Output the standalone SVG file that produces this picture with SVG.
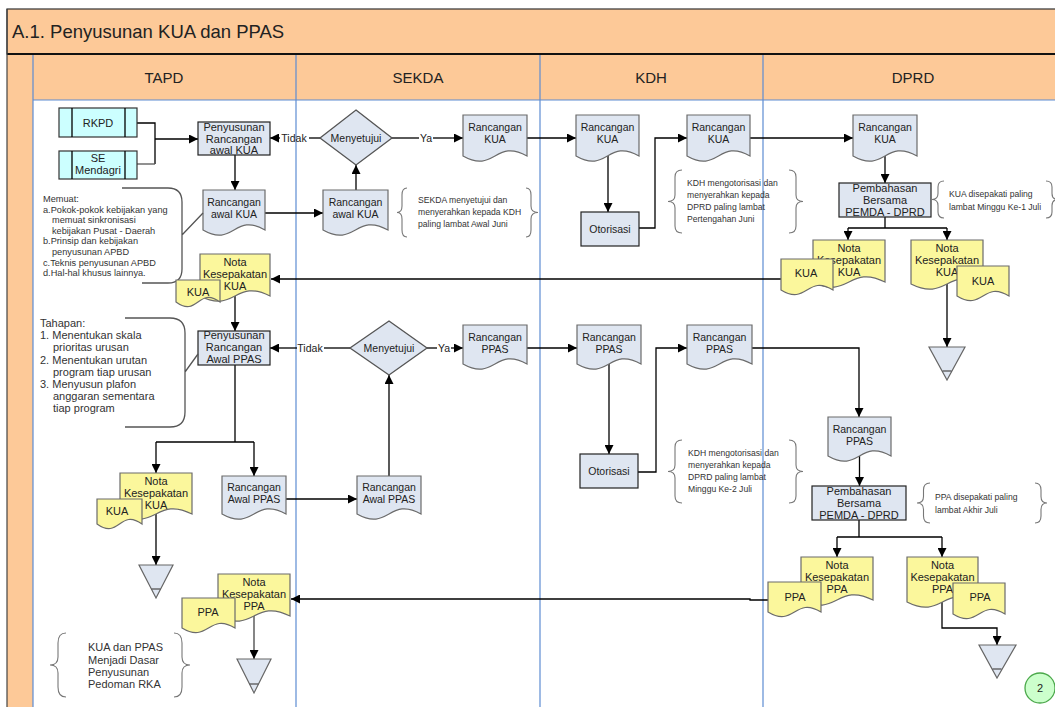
<svg xmlns="http://www.w3.org/2000/svg" width="1055" height="707" viewBox="0 0 1055 707">
  <defs>
    <marker id="arrow" viewBox="0 0 10 10" refX="10" refY="5" markerWidth="9" markerHeight="9" markerUnits="userSpaceOnUse" orient="auto">
      <path d="M0,0 L10,5 L0,10 Z" fill="#000"/>
    </marker>
    <style>
      text { font-family: "Liberation Sans", Arial, sans-serif; fill: #222; }
      .title { font-size: 18.5px; }
      .lane { font-size: 15px; text-anchor: middle; }
      .t { font-size: 11px; text-anchor: middle; }
      .td { font-size: 10.5px; text-anchor: middle; }
      .note { font-size: 8.6px; fill: #333; }
      .memo { font-size: 9.2px; fill: #333; }
      .step { font-size: 11px; fill: #333; }
      .box { fill: #dfe6f1; stroke: #222; stroke-width: 1.2; }
      .doc { fill: #dfe6f1; stroke: #6b6b6b; stroke-width: 1.2; }
      .ydoc { fill: #fbf79c; stroke: #6b6b6b; stroke-width: 1.2; }
      .pre { fill: #ccffff; stroke: #333; stroke-width: 1.2; }
      .dia { fill: #dfe6f1; stroke: #555; stroke-width: 1.3; }
      .tri { fill: #dfe6f1; stroke: #666; stroke-width: 1.2; }
      .brace { fill: none; stroke: #777; stroke-width: 1.1; }
      .ln { fill: none; stroke: #000; stroke-width: 1.3; }
      .lng { fill: none; stroke: #555; stroke-width: 1.3; }
      .arr { fill: none; stroke: #000; stroke-width: 1.3; marker-end: url(#arrow); }
      .arrg { fill: none; stroke: #444; stroke-width: 1.3; marker-end: url(#arrow); }
      .sep { stroke: #5d8cd2; stroke-width: 1.2; }
      .hdr { fill: #fdc998; }
    </style>
  </defs>

  <rect width="1055" height="707" fill="#fff"/>

  <!-- swimlane frame -->
  <g id="frame">
    <rect class="hdr" x="7" y="9" width="1060" height="45" stroke="#333" stroke-width="1.2"/>
    <rect class="hdr" x="7" y="54" width="26" height="660"/>
    <rect class="hdr" x="33" y="55" width="1030" height="45"/>
    <line x1="7" y1="54" x2="1055" y2="54" stroke="#111" stroke-width="2"/>
    <line x1="7" y1="9" x2="7" y2="707" stroke="#444" stroke-width="1.2"/>
    <line class="sep" x1="33" y1="100" x2="1055" y2="100"/>
    <line class="sep" x1="33" y1="55" x2="33" y2="707"/>
    <line class="sep" x1="296" y1="55" x2="296" y2="707"/>
    <line class="sep" x1="540" y1="55" x2="540" y2="707"/>
    <line class="sep" x1="763" y1="55" x2="763" y2="707"/>
    <text class="title" x="12" y="38">A.1. Penyusunan KUA dan PPAS</text>
    <text class="lane" x="164" y="83">TAPD</text>
    <text class="lane" x="418" y="83">SEKDA</text>
    <text class="lane" x="651" y="83">KDH</text>
    <text class="lane" x="913" y="83">DPRD</text>
  </g>

  <!-- connectors -->
  <g id="connectors">
    <path class="ln" d="M137,123 H155 V164"/>
    <path class="lng" d="M155,164 H137"/>
    <path class="arr" d="M155,139 H198"/>
    <path class="arr" d="M235,155 V190"/>
    <path class="arr" d="M265,213 H323"/>
    <path class="arr" d="M356,190 V165"/>
    <path class="ln" d="M320,138 H309"/>
    <path class="arr" d="M280,138 H270"/>
    <path class="ln" d="M392,138 H419"/>
    <path class="arr" d="M433,138 H463"/>
    <path class="arr" d="M527,138 H576"/>
    <path class="arr" d="M608,156 V212"/>
    <path class="arr" d="M639,228 H655 V138 H687"/>
    <path class="arr" d="M750,138 H853"/>
    <path class="arr" d="M885,156 V183"/>
    <path class="ln" d="M885,217 V228 M848,228 H947"/>
    <path class="arr" d="M848,228 V240"/>
    <path class="arr" d="M947,228 V240"/>
    <path class="arr" d="M781,279 H271"/>
    <path class="arr" d="M947,284 V347"/>
    <path class="arr" d="M235,296 V331"/>
    <path class="ln" d="M350,348 H324"/>
    <path class="arr" d="M297,348 H270"/>
    <path class="ln" d="M427,348 H437"/>
    <path class="arr" d="M451,348 H463"/>
    <path class="arr" d="M389,476 V375"/>
    <path class="arr" d="M527,348 H577"/>
    <path class="arr" d="M609,364 V454"/>
    <path class="arr" d="M638,472 H656 V348 H687"/>
    <path class="arr" d="M752,348 H859 V417"/>
    <path class="arr" d="M859.5,456 V486"/>
    <path class="ln" d="M859,520 V537 M837,537 H942"/>
    <path class="arr" d="M837,537 V557"/>
    <path class="arr" d="M942,537 V557"/>
    <path class="arr" d="M768,600 H750 V599 H291"/>
    <path class="arr" d="M942,602 V628 H997 V645"/>
    <path class="ln" d="M235,365 V442 M156,442 H254"/>
    <path class="arr" d="M156,442 V473"/>
    <path class="arr" d="M254,442 V476"/>
    <path class="arr" d="M156,514 V565"/>
    <path class="arr" d="M286,499 H357"/>
    <path class="arrg" d="M254,616 V659"/>
    <text class="td" x="294" y="142">Tidak</text>
    <text class="td" x="426" y="142">Ya</text>
    <text class="td" x="310" y="352">Tidak</text>
    <text class="td" x="444" y="352">Ya</text>
  </g>

  <!-- TAPD -->
  <g id="rkpd">
    <rect class="pre" x="59" y="108" width="78" height="29"/>
    <path class="ln" d="M72,108 V137 M125,108 V137" stroke="#333"/>
    <text class="t" x="98" y="127">RKPD</text>
  </g>
  <g id="se-mendagri">
    <rect class="pre" x="59" y="151" width="78" height="28"/>
    <path class="ln" d="M72,151 V179 M125,151 V179" stroke="#333"/>
    <text class="t" x="98" y="162">SE</text>
    <text class="t" x="98" y="174">Mendagri</text>
  </g>
  <g id="penyusunan-kua">
    <rect class="box" x="198" y="122" width="72" height="33"/>
    <text class="t" x="234" y="131">Penyusunan</text>
    <text class="t" x="234" y="142.5">Rancangan</text>
    <text class="t" x="234" y="154">awal KUA</text>
  </g>
  <g id="rancangan-awal-kua-tapd">
    <path class="doc" d="M203,190 H265 V230 C234,212 234,248 203,230 Z"/>
    <text class="td" x="234" y="206">Rancangan</text>
    <text class="td" x="234" y="218">awal KUA</text>
  </g>
  <g id="memuat-note">
    <path class="lng" d="M122,188 H168 Q182,188 182,202 V269 Q182,283 168,283 H142 M182,235 L203,213"/>
    <text class="memo" x="43" y="202">Memuat:</text>
    <text class="memo" x="43" y="212.6">a.Pokok-pokok kebijakan yang</text>
    <text class="memo" x="52" y="223.2">memuat sinkronisasi</text>
    <text class="memo" x="52" y="233.8">kebijakan Pusat - Daerah</text>
    <text class="memo" x="43" y="244.4">b.Prinsip dan kebijakan</text>
    <text class="memo" x="52" y="255">penyusunan APBD</text>
    <text class="memo" x="43" y="265.6">c.Teknis penyusunan APBD</text>
    <text class="memo" x="43" y="276.2">d.Hal-hal khusus lainnya.</text>
  </g>
  <g id="nota-kua-tapd">
    <path class="ydoc" d="M200,254 H270 V296 C235,278 235,314 200,296 Z"/>
    <text class="t" x="235" y="266">Nota</text>
    <text class="t" x="235" y="278">Kesepakatan</text>
    <text class="t" x="235" y="290">KUA</text>
    <path class="ydoc" d="M176,280 H220 V302 C198,286 198,318 176,302 Z"/>
    <text class="t" x="198" y="296">KUA</text>
  </g>
  <g id="penyusunan-ppas">
    <rect class="box" x="198" y="331" width="72" height="34"/>
    <text class="t" x="234" y="339">Penyusunan</text>
    <text class="t" x="234" y="351">Rancangan</text>
    <text class="t" x="234" y="363">Awal PPAS</text>
  </g>
  <g id="tahapan-note">
    <path class="lng" d="M125,318 H170 Q185,318 185,333 V412 Q185,427 170,427 H125 M185,372 L198,354"/>
    <text class="step" x="40" y="327">Tahapan:</text>
    <text class="step" x="40" y="339.2">1. Menentukan skala</text>
    <text class="step" x="53" y="351.4">prioritas urusan</text>
    <text class="step" x="40" y="363.6">2. Menentukan urutan</text>
    <text class="step" x="53" y="375.8">program tiap urusan</text>
    <text class="step" x="40" y="388">3. Menyusun plafon</text>
    <text class="step" x="53" y="400.2">anggaran sementara</text>
    <text class="step" x="53" y="412.4">tiap program</text>
  </g>
  <g id="nota-kua-tapd-2">
    <path class="ydoc" d="M120,473 H192 V514 C156,496 156,532 120,514 Z"/>
    <text class="t" x="156" y="485">Nota</text>
    <text class="t" x="156" y="497">Kesepakatan</text>
    <text class="t" x="156" y="509">KUA</text>
    <path class="ydoc" d="M97,499 H142 V524 C119.5,508 119.5,540 97,524 Z"/>
    <text class="t" x="117" y="515">KUA</text>
  </g>
  <g id="end-kua-tapd">
    <path class="tri" d="M139,565 H173 L156,598 Z"/>
    <path class="lng" d="M151.5,589 H160.5" stroke="#888" stroke-width="1"/>
  </g>
  <g id="rancangan-awal-ppas-tapd">
    <path class="doc" d="M222,476 H286 V514 C254,496 254,532 222,514 Z"/>
    <text class="td" x="254" y="491">Rancangan</text>
    <text class="td" x="254" y="503">Awal PPAS</text>
  </g>
  <g id="nota-ppa-tapd">
    <path class="ydoc" d="M218,574 H290 V616 C254,598 254,634 218,616 Z"/>
    <text class="t" x="254" y="586">Nota</text>
    <text class="t" x="254" y="598">Kesepakatan</text>
    <text class="t" x="254" y="610">PPA</text>
    <path class="ydoc" d="M182,598 H235 V628 C208.5,612 208.5,644 182,628 Z"/>
    <text class="t" x="208" y="616">PPA</text>
  </g>
  <g id="end-ppa-tapd">
    <path class="tri" d="M237,659 H271 L254,693 Z"/>
    <path class="lng" d="M249.5,684 H258.5" stroke="#888" stroke-width="1"/>
  </g>
  <g id="dasar-rka-note">
    <path class="brace" d="M66,633 Q58,633 58,643 V657 Q58,665 50,665 Q58,665 58,673 V687 Q58,697 66,697"/>
    <path class="brace" d="M174,633 Q182,633 182,643 V657 Q182,665 190,665 Q182,665 182,673 V687 Q182,697 174,697"/>
    <text class="step" x="88" y="651">KUA dan PPAS</text>
    <text class="step" x="88" y="664">Menjadi Dasar</text>
    <text class="step" x="88" y="676">Penyusunan</text>
    <text class="step" x="88" y="688">Pedoman RKA</text>
  </g>

  <!-- SEKDA -->
  <g id="menyetujui-kua">
    <path class="dia" d="M356,110 L392,138 L356,165 L320,138 Z"/>
    <text class="td" x="356" y="142">Menyetujui</text>
  </g>
  <g id="rancangan-awal-kua-sekda">
    <path class="doc" d="M323,190 H388 V230 C355.5,212 355.5,248 323,230 Z"/>
    <text class="td" x="355.5" y="206">Rancangan</text>
    <text class="td" x="355.5" y="218">awal KUA</text>
  </g>
  <g id="rancangan-kua-sekda">
    <path class="doc" d="M463,115 H527 V156 C495,138 495,174 463,156 Z"/>
    <text class="td" x="495" y="131">Rancangan</text>
    <text class="td" x="495" y="143">KUA</text>
  </g>
  <g id="sekda-note">
    <path class="brace" d="M407,188 Q402,188 402,195 V206 Q402,212.5 397,212.5 Q402,212.5 402,219 V230 Q402,237 407,237"/>
    <path class="brace" d="M526,188 Q531,188 531,195 V206 Q531,212.5 538,212.5 Q531,212.5 531,219 V230 Q531,237 526,237"/>
    <text class="note" x="418" y="203">SEKDA menyetujui dan</text>
    <text class="note" x="418" y="215">menyerahkan kepada KDH</text>
    <text class="note" x="418" y="227">paling lambat Awal Juni</text>
  </g>
  <g id="menyetujui-ppas">
    <path class="dia" d="M389,321 L427,348 L389,375 L350,348 Z"/>
    <text class="td" x="389" y="352">Menyetujui</text>
  </g>
  <g id="rancangan-ppas-sekda">
    <path class="doc" d="M463,325 H527 V364 C495,346 495,382 463,364 Z"/>
    <text class="td" x="495" y="341">Rancangan</text>
    <text class="td" x="495" y="353">PPAS</text>
  </g>
  <g id="rancangan-awal-ppas-sekda">
    <path class="doc" d="M357,476 H421 V514 C389,496 389,532 357,514 Z"/>
    <text class="td" x="389" y="491">Rancangan</text>
    <text class="td" x="389" y="503">Awal PPAS</text>
  </g>

  <!-- KDH -->
  <g id="rancangan-kua-kdh">
    <path class="doc" d="M576,115 H639 V156 C607.5,138 607.5,174 576,156 Z"/>
    <text class="td" x="607.5" y="131">Rancangan</text>
    <text class="td" x="607.5" y="143">KUA</text>
  </g>
  <g id="otorisasi-kua">
    <rect class="box" x="581" y="212" width="58" height="34"/>
    <text class="td" x="610" y="233">Otorisasi</text>
  </g>
  <g id="rancangan-kua-kdh-2">
    <path class="doc" d="M687,115 H750 V156 C718.5,138 718.5,174 687,156 Z"/>
    <text class="td" x="718.5" y="131">Rancangan</text>
    <text class="td" x="718.5" y="143">KUA</text>
  </g>
  <g id="kdh-note-kua">
    <path class="brace" d="M682,170 Q675,170 675,177 V195 Q675,201.5 668,201.5 Q675,201.5 675,208 V226 Q675,233 682,233"/>
    <path class="brace" d="M789,170 Q796,170 796,177 V195 Q796,201.5 803,201.5 Q796,201.5 796,208 V226 Q796,233 789,233"/>
    <text class="note" x="687" y="186">KDH mengotorisasi dan</text>
    <text class="note" x="687" y="198">menyerahkan kepada</text>
    <text class="note" x="687" y="210">DPRD paling lambat</text>
    <text class="note" x="687" y="222">Pertengahan Juni</text>
  </g>
  <g id="rancangan-ppas-kdh">
    <path class="doc" d="M577,325 H641 V364 C609,346 609,382 577,364 Z"/>
    <text class="td" x="609" y="341">Rancangan</text>
    <text class="td" x="609" y="353">PPAS</text>
  </g>
  <g id="otorisasi-ppas">
    <rect class="box" x="580" y="454" width="58" height="34"/>
    <text class="td" x="609" y="475">Otorisasi</text>
  </g>
  <g id="rancangan-ppas-kdh-2">
    <path class="doc" d="M687,325 H752 V364 C719.5,346 719.5,382 687,364 Z"/>
    <text class="td" x="719.5" y="341">Rancangan</text>
    <text class="td" x="719.5" y="353">PPAS</text>
  </g>
  <g id="kdh-note-ppas">
    <path class="brace" d="M682,440 Q675,440 675,447 V465 Q675,471.5 668,471.5 Q675,471.5 675,478 V496 Q675,503 682,503"/>
    <path class="brace" d="M789,440 Q796,440 796,447 V465 Q796,471.5 803,471.5 Q796,471.5 796,478 V496 Q796,503 789,503"/>
    <text class="note" x="688" y="456">KDH mengotorisasi dan</text>
    <text class="note" x="688" y="468">menyerahkan kepada</text>
    <text class="note" x="688" y="480">DPRD paling lambat</text>
    <text class="note" x="688" y="492">Minggu Ke-2 Juli</text>
  </g>

  <!-- DPRD -->
  <g id="rancangan-kua-dprd">
    <path class="doc" d="M853,115 H917 V156 C885,138 885,174 853,156 Z"/>
    <text class="td" x="885" y="131">Rancangan</text>
    <text class="td" x="885" y="143">KUA</text>
  </g>
  <g id="pembahasan-kua">
    <rect class="box" x="839" y="183" width="92" height="34"/>
    <text class="t" x="885" y="192">Pembahasan</text>
    <text class="t" x="885" y="204">Bersama</text>
    <text class="t" x="885" y="216">PEMDA - DPRD</text>
  </g>
  <g id="dprd-note-kua">
    <path class="brace" d="M944,181 Q938,181 938,187 V193.5 Q938,199.5 932,199.5 Q938,199.5 938,205.5 V212 Q938,218 944,218"/>
    <path class="brace" d="M1046,181 Q1052,181 1052,187 V193.5 Q1052,199.5 1058,199.5 Q1052,199.5 1052,205.5 V212 Q1052,218 1046,218"/>
    <text class="note" x="949" y="197">KUA disepakati paling</text>
    <text class="note" x="949" y="210">lambat Minggu Ke-1 Juli</text>
  </g>
  <g id="nota-kua-dprd-1">
    <path class="ydoc" d="M813,240 H885 V282 C849,264 849,300 813,282 Z"/>
    <text class="t" x="849" y="252">Nota</text>
    <text class="t" x="849" y="264">Kesepakatan</text>
    <text class="t" x="849" y="276">KUA</text>
    <path class="ydoc" d="M781,259 H833 V290 C807,274 807,306 781,290 Z"/>
    <text class="t" x="806" y="277">KUA</text>
  </g>
  <g id="nota-kua-dprd-2">
    <path class="ydoc" d="M911,240 H983 V284 C947,266 947,302 911,284 Z"/>
    <text class="t" x="947" y="252">Nota</text>
    <text class="t" x="947" y="264">Kesepakatan</text>
    <text class="t" x="947" y="276">KUA</text>
    <path class="ydoc" d="M957,266 H1009 V296 C983,280 983,312 957,296 Z"/>
    <text class="t" x="983" y="285">KUA</text>
  </g>
  <g id="end-kua-dprd">
    <path class="tri" d="M929,347 H965 L947,380 Z"/>
    <path class="lng" d="M942.5,371 H951.5" stroke="#888" stroke-width="1"/>
  </g>
  <g id="rancangan-ppas-dprd">
    <path class="doc" d="M828,417 H891 V456 C859.5,438 859.5,474 828,456 Z"/>
    <text class="td" x="859.5" y="433">Rancangan</text>
    <text class="td" x="859.5" y="445">PPAS</text>
  </g>
  <g id="pembahasan-ppas">
    <rect class="box" x="812" y="486" width="94" height="34"/>
    <text class="t" x="859" y="495">Pembahasan</text>
    <text class="t" x="859" y="507">Bersama</text>
    <text class="t" x="859" y="519">PEMDA - DPRD</text>
  </g>
  <g id="dprd-note-ppas">
    <path class="brace" d="M930,483 Q923.5,483 923.5,490 V496.5 Q923.5,503 917,503 Q923.5,503 923.5,509.5 V516 Q923.5,523 930,523"/>
    <path class="brace" d="M1035,483 Q1041,483 1041,490 V496.5 Q1041,503 1047,503 Q1041,503 1041,509.5 V516 Q1041,523 1035,523"/>
    <text class="note" x="935" y="500">PPA disepakati paling</text>
    <text class="note" x="935" y="513">lambat Akhir Juli</text>
  </g>
  <g id="nota-ppa-dprd-1">
    <path class="ydoc" d="M801,557 H873 V600 C837,582 837,618 801,600 Z"/>
    <text class="t" x="837" y="569">Nota</text>
    <text class="t" x="837" y="581">Kesepakatan</text>
    <text class="t" x="837" y="593">PPA</text>
    <path class="ydoc" d="M768,582 H821 V612 C794.5,596 794.5,628 768,612 Z"/>
    <text class="t" x="795" y="601">PPA</text>
  </g>
  <g id="nota-ppa-dprd-2">
    <path class="ydoc" d="M907,557 H978 V602 C942.5,584 942.5,620 907,602 Z"/>
    <text class="t" x="942.5" y="569">Nota</text>
    <text class="t" x="942.5" y="581">Kesepakatan</text>
    <text class="t" x="942.5" y="593">PPA</text>
    <path class="ydoc" d="M953,583 H1005 V614 C979,598 979,630 953,614 Z"/>
    <text class="t" x="980" y="601">PPA</text>
  </g>
  <g id="end-ppa-dprd">
    <path class="tri" d="M979,645 H1016 L997,678 Z"/>
    <path class="lng" d="M992.5,669 H1001.5" stroke="#888" stroke-width="1"/>
  </g>
  <g id="page-2">
    <circle cx="1040" cy="688" r="15" fill="#ccffcc" stroke="#4aa84a" stroke-width="1.3"/>
    <text class="t" x="1040" y="692" font-size="12">2</text>
  </g>
</svg>
